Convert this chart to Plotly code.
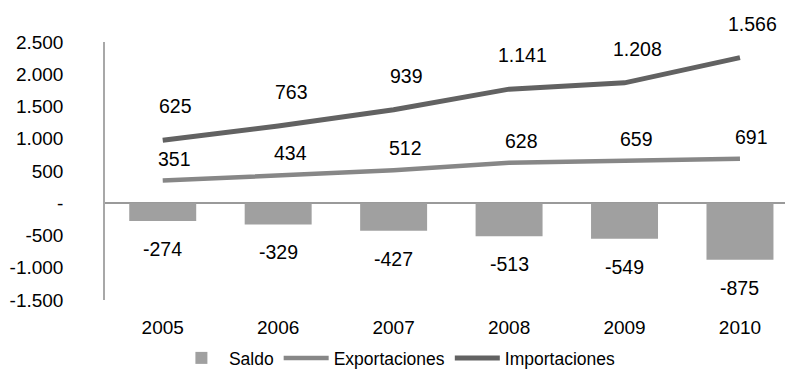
import plotly.graph_objects as go

years = ["2005", "2006", "2007", "2008", "2009", "2010"]
saldo = [-274, -329, -427, -513, -549, -875]
exportaciones = [351, 434, 512, 628, 659, 691]
importaciones = [625, 763, 939, 1141, 1208, 1566]
y_tickvals = [-1500, -1000, -500, 0, 500, 1000, 1500, 2000, 2500]
y_ticktext = ["-1.500", "-1.000", "-500", "-", "500", "1.000", "1.500", "2.000", "2.500"]

def fmt(v):
    return f"{v:,}".replace(",", ".")

# stacked line (as in the original Excel chart)
imp_stacked = [e + i for e, i in zip(exportaciones, importaciones)]

FONT = "Liberation Sans, Arial, sans-serif"
fig = go.Figure()
fig.add_trace(go.Bar(x=years, y=saldo, name="Saldo", width=0.58,
                     marker=dict(color="#a0a0a0", line=dict(width=0))))
fig.add_trace(go.Scatter(x=years, y=exportaciones, name="Exportaciones", mode="lines",
                         line=dict(color="#878787", width=4.5)))
fig.add_trace(go.Scatter(x=years, y=imp_stacked, name="Importaciones", mode="lines",
                         line=dict(color="#626262", width=5)))

ann = []
for i, v in enumerate(saldo):
    ann.append(dict(x=i, y=v, text=fmt(v), showarrow=False, yanchor="middle",
                    yshift=-28, font=dict(size=19.5, color="#000")))
for i, v in enumerate(exportaciones):
    ann.append(dict(x=i, y=v, text=fmt(v), showarrow=False, yanchor="middle",
                    yshift=22, xshift=12, font=dict(size=19.5, color="#000")))
for i, (v, s) in enumerate(zip(importaciones, imp_stacked)):
    ann.append(dict(x=i, y=s, text=fmt(v), showarrow=False, yanchor="middle",
                    yshift=34, xshift=13, font=dict(size=19.5, color="#000")))

fig.update_layout(
    width=785, height=371,
    margin=dict(l=105, r=0, t=42, b=71, autoexpand=False),
    paper_bgcolor="white", plot_bgcolor="white",
    font=dict(family=FONT, size=19, color="#000"),
    barmode="overlay",
    annotations=ann,
    showlegend=True,
    legend=dict(orientation="h", x=0.43, xanchor="center", yref="container",
                y=0.035, yanchor="middle",
                font=dict(size=17.5), traceorder="normal", itemwidth=45),
    xaxis=dict(type="category", range=[-0.5, 5.39], showline=False, showgrid=False,
               zeroline=False, ticks="", ticklabelstandoff=14, tickfont=dict(size=19)),
    yaxis=dict(range=[-1500, 2500], tickvals=y_tickvals, ticktext=y_ticktext,
               showgrid=False, zeroline=True, zerolinecolor="#9a9a9a", zerolinewidth=1.5,
               showline=True, linecolor="#a8a8a8", linewidth=1.5, ticks="",
               ticklabelstandoff=36, tickfont=dict(size=19)),
)

fig.write_html("out.html")
